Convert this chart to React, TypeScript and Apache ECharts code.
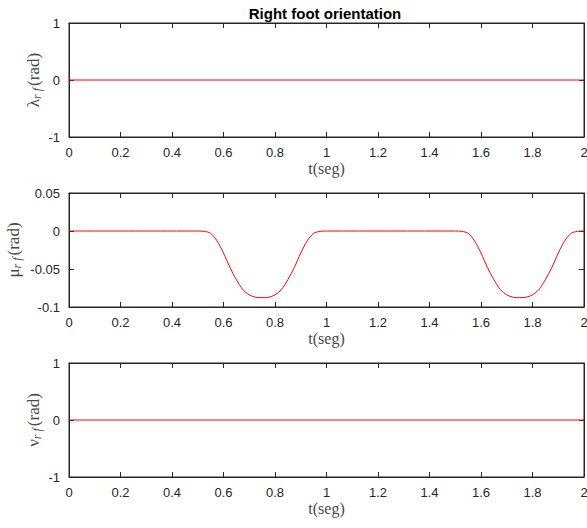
import React, { useEffect, useRef } from "react";
import * as echarts from "echarts";

const titleText = "Right foot orientation";
const xTicksMin = 0;
const xTicksMax = 2;
const xTickStep = 0.2;

const tFlat = [0, 2];
const lambdaRf = [0, 0];
const nuRf = [0, 0];

const tMu = [
  0, 0.5, 0.525, 0.55, 0.575, 0.6, 0.625, 0.65, 0.675, 0.7, 0.725, 0.75, 0.775, 0.8, 0.825, 0.85,
  0.875, 0.9, 0.925, 0.95, 0.975, 1.0, 1.5, 1.525, 1.55, 1.575, 1.6, 1.625, 1.65, 1.675, 1.7,
  1.725, 1.75, 1.775, 1.8, 1.825, 1.85, 1.875, 1.9, 1.925, 1.95, 1.975, 2.0,
];
const muRf = [
  0, 0, -0.0005, -0.003, -0.013, -0.029, -0.048, -0.064, -0.077, -0.084, -0.0872, -0.0877,
  -0.0872, -0.084, -0.077, -0.064, -0.048, -0.029, -0.013, -0.003, -0.0005, 0, 0, -0.0005,
  -0.003, -0.013, -0.029, -0.048, -0.064, -0.077, -0.084, -0.0872, -0.0877, -0.0872, -0.084,
  -0.077, -0.064, -0.048, -0.029, -0.013, -0.003, -0.0005, 0,
];

const yRanges = [
  { min: -1, max: 1, interval: 1 },
  { min: -0.1, max: 0.05, interval: 0.05 },
  { min: -1, max: 1, interval: 1 },
];
const yNames = [
  { sym: "λ", sub: "r f" },
  { sym: "μ", sub: "r f" },
  { sym: "ν", sub: "r f" },
];
const xName = "t(seg)";

export default function App() {
  const ref = useRef<HTMLDivElement>(null);
  useEffect(() => {
    if (!ref.current) return;
    const chart = echarts.init(ref.current, null, { renderer: "svg" });
    const axisColor = "#262626";
    const nameColor = "#4a4a4a";
    const tops = [23, 193, 363];
    const yNameGaps = [26, 46, 26];
    const gridH = 114;
    const grids = tops.map((t) => ({
      left: 69,
      top: t,
      width: 515,
      height: gridH,
      show: true,
      borderColor: axisColor,
      borderWidth: 1,
      backgroundColor: "#fff",
      containLabel: false,
      outerBoundsMode: "none",
    }));
    const xFmt = (v: number) => String(Math.round(v * 10) / 10);
    const yFmt = (v: number) => String(Math.round(v * 1000) / 1000);
    const line = { show: true, onZero: false, lineStyle: { color: axisColor, width: 1 } };
    const tick = { show: true, inside: true, length: 5, lineStyle: { color: axisColor } };
    const xAxes: any[] = [];
    const yAxes: any[] = [];
    tops.forEach((_, i) => {
      xAxes.push({
        type: "value",
        gridIndex: i,
        min: xTicksMin,
        max: xTicksMax,
        interval: xTickStep,
        position: "bottom",
        name: xName,
        nameLocation: "middle",
        nameGap: 23,
        nameMoveOverlap: false,
        nameTextStyle: { fontFamily: "Liberation Serif", fontSize: 16, color: nameColor },
        axisLine: line,
        axisTick: tick,
        axisLabel: {
          show: true,
          margin: 9,
          formatter: xFmt,
          fontFamily: "Liberation Sans",
          fontSize: 13,
          color: axisColor,
        },
        splitLine: { show: false },
      });
      xAxes.push({
        type: "value",
        gridIndex: i,
        min: xTicksMin,
        max: xTicksMax,
        interval: xTickStep,
        position: "top",
        axisLine: line,
        axisTick: tick,
        axisLabel: { show: false },
        splitLine: { show: false },
      });
      const r = yRanges[i];
      const n = yNames[i];
      yAxes.push({
        type: "value",
        gridIndex: i,
        min: r.min,
        max: r.max,
        interval: r.interval,
        position: "left",
        name: `{s|${n.sym}}{sub|${n.sub}}{s|(rad)}`,
        nameLocation: "middle",
        nameRotate: 90,
        nameGap: yNameGaps[i],
        nameMoveOverlap: false,
        nameTextStyle: {
          color: nameColor,
          fontFamily: "Liberation Serif",
          fontSize: 17,
          rich: {
            s: { fontFamily: "Liberation Serif", fontSize: 17, color: nameColor },
            sub: {
              fontFamily: "Liberation Serif",
              fontStyle: "italic",
              fontSize: 12,
              color: nameColor,
              verticalAlign: "bottom",
              padding: [7, 2, 0, 0],
            },
          },
        },
        axisLine: line,
        axisTick: tick,
        axisLabel: {
          show: true,
          margin: 9,
          formatter: yFmt,
          fontFamily: "Liberation Sans",
          fontSize: 13,
          color: axisColor,
        },
        splitLine: { show: false },
      });
      yAxes.push({
        type: "value",
        gridIndex: i,
        min: r.min,
        max: r.max,
        interval: r.interval,
        position: "right",
        axisLine: line,
        axisTick: tick,
        axisLabel: { show: false },
        splitLine: { show: false },
      });
    });
    const mk = (xs: number[], ys: number[]) => xs.map((x, k) => [x, ys[k]]);
    const seriesData = [mk(tFlat, lambdaRf), mk(tMu, muRf), mk(tFlat, nuRf)];
    chart.setOption({
      animation: false,
      backgroundColor: "#fff",
      title: {
        text: titleText,
        left: 320,
        top: 1,
        textAlign: "center",
        textStyle: { fontFamily: "Liberation Sans", fontWeight: "bold", fontSize: 15, color: "#000" },
      },
      grid: grids,
      xAxis: xAxes,
      yAxis: yAxes,
      series: seriesData.map((d, i) => ({
        type: "line",
        xAxisIndex: i * 2,
        yAxisIndex: i * 2,
        data: d,
        showSymbol: false,
        symbol: "none",
        smooth: i === 1 ? 0.3 : false,
        lineStyle: { color: "#ff0000", width: 1 },
        z: 5,
      })),
    });
    return () => chart.dispose();
  }, []);
  return (
    <div
      ref={ref}
      style={{ position: "fixed", left: 0, top: 0, width: 587, height: 528, background: "#fff" }}
    />
  );
}
